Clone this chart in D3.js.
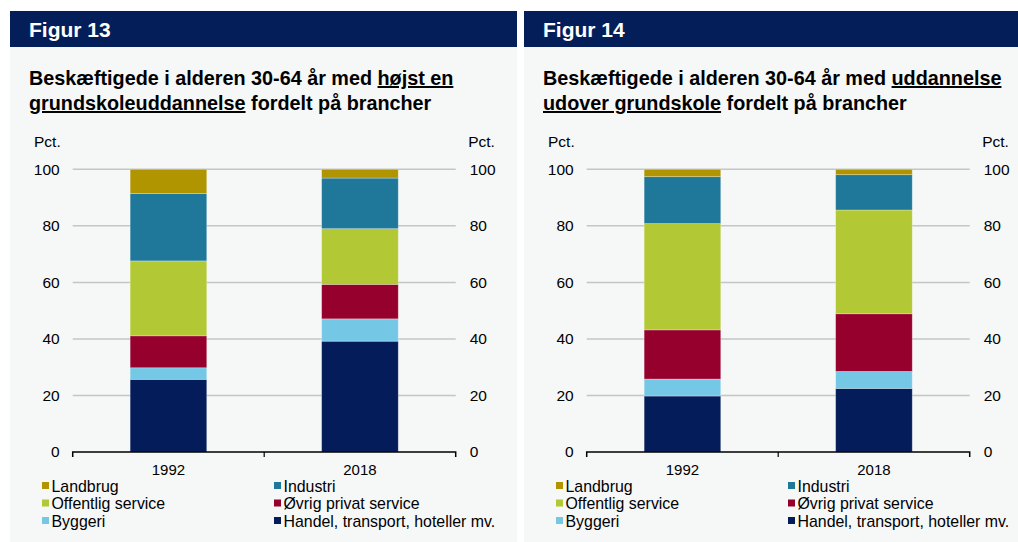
<!DOCTYPE html>
<html><head><meta charset="utf-8">
<script src="https://cdn.jsdelivr.net/npm/d3@7"></script>
<style>
body{margin:0;background:#fff;}
svg{display:block;font-family:"Liberation Sans",Arial,sans-serif;}
</style></head>
<body><svg id="c" width="1018" height="542"></svg>
<script>
const years = ["1992", "2018"];
const seriesNames = ["Handel, transport, hoteller mv.", "Byggeri", "Øvrig privat service", "Offentlig service", "Industri", "Landbrug"];
const seriesColors = ["#041c5a", "#74c8e6", "#95002c", "#b2c834", "#1f7899", "#b09500"];
// Figur 13: højst en grundskoleuddannelse (values per series, [1992, 2018])
const fig13Handel = [25.7, 39.2];
const fig13Byggeri = [4.1, 7.9];
const fig13Ovrig = [11.3, 12.2];
const fig13Offentlig = [26.5, 19.7];
const fig13Industri = [23.8, 17.9];
const fig13Landbrug = [8.6, 3.1];
// Figur 14: uddannelse udover grundskole
const fig14Handel = [19.8, 22.5];
const fig14Byggeri = [6.0, 6.0];
const fig14Ovrig = [17.4, 20.4];
const fig14Offentlig = [37.6, 36.7];
const fig14Industri = [16.6, 12.5];
const fig14Landbrug = [2.6, 1.9];
const yTicks = [0, 20, 40, 60, 80, 100];
const legendOrder = [["Landbrug", "Industri"], ["Offentlig service", "Øvrig privat service"], ["Byggeri", "Handel, transport, hoteller mv."]];

const panels = [
  {x0: 10, fig: "Figur 13", title: [["Beskæftigede i alderen 30-64 år med ", false], ["højst en", true]],
   title2: [["grundskoleuddannelse", true], [" fordelt på brancher", false]],
   series: [fig13Handel, fig13Byggeri, fig13Ovrig, fig13Offentlig, fig13Industri, fig13Landbrug]},
  {x0: 524, fig: "Figur 14", title: [["Beskæftigede i alderen 30-64 år med ", false], ["uddannelse", true]],
   title2: [["udover grundskole", true], [" fordelt på brancher", false]],
   series: [fig14Handel, fig14Byggeri, fig14Ovrig, fig14Offentlig, fig14Industri, fig14Landbrug]}
];

const svg = d3.select("#c");
panels.forEach((p, pi) => {
  const w = pi === 0 ? 507 : 494;
  const g = svg.append("g").attr("transform", `translate(${p.x0},0)`);
  g.append("rect").attr("x", 0).attr("y", 47).attr("width", w).attr("height", 495).attr("fill", "#f6f7f7");
  g.append("rect").attr("x", 0).attr("y", 11).attr("width", w).attr("height", 36).attr("fill", "#041e5a");
  g.append("text").attr("x", 19).attr("y", 36.5).attr("fill", "#fff").attr("font-weight", "bold")
    .attr("font-size", 21).text(p.fig);
  [p.title, p.title2].forEach((line, li) => {
    const t = g.append("text").attr("x", 19).attr("y", 85 + li * 25).attr("font-weight", "bold")
      .attr("font-size", 19.8).attr("fill", "#000");
    line.forEach(([s, u]) => {
      const ts = t.append("tspan").text(s);
      if (u) ts.style("text-decoration", "underline");
    });
  });

  const left = 62.7, right = 445.7, top = 169.3, bottom = 452;
  const x = d3.scaleBand().domain(years).range([left, right]).paddingInner(0.6).paddingOuter(0.3);
  const y = d3.scaleLinear().domain([0, 100]).range([bottom, top]);

  // gridlines
  g.append("g").selectAll("line").data(yTicks.filter(d => d > 0)).join("line")
    .attr("x1", left).attr("x2", right).attr("y1", d => y(d)).attr("y2", d => y(d))
    .attr("stroke", "#c4c6c6").attr("stroke-width", 1.5);

  // stacked bars
  const rows = years.map((yr, i) => {
    const o = {year: yr};
    seriesNames.forEach((n, k) => o[n] = p.series[k][i]);
    return o;
  });
  const stack = d3.stack().keys(seriesNames)(rows);
  const color = d3.scaleOrdinal().domain(seriesNames).range(seriesColors);
  g.append("g").selectAll("g").data(stack).join("g").attr("fill", d => color(d.key))
    .selectAll("rect").data(d => d).join("rect")
    .attr("x", d => x(d.data.year)).attr("width", x.bandwidth())
    .attr("y", d => y(d[1])).attr("height", d => y(d[0]) - y(d[1]))
    .attr("stroke", "rgba(255,255,255,0.35)").attr("stroke-width", 0.8);

  // left & right axes
  const la = g.append("g").attr("transform", `translate(${left},0)`)
    .call(d3.axisLeft(y).tickValues(yTicks).tickSize(0).tickPadding(13));
  la.select(".domain").remove();
  const ra = g.append("g").attr("transform", `translate(${right},0)`)
    .call(d3.axisRight(y).tickValues(yTicks).tickSize(0).tickPadding(14));
  ra.select(".domain").remove();
  [la, ra].forEach(a => a.selectAll("text").attr("font-size", 15.5).attr("fill", "#000")
    .attr("font-family", "Liberation Sans, Arial, sans-serif"));

  g.append("text").attr("x", 24).attr("y", 147).attr("font-size", 15.5).text("Pct.");
  g.append("text").attr("x", right + 12.5).attr("y", 147).attr("font-size", 15.5).text("Pct.");

  // x axis
  const xa = g.append("g").attr("transform", `translate(0,${bottom})`)
    .call(d3.axisBottom(x).tickSize(0).tickPadding(12));
  xa.select(".domain").attr("stroke", "#000").attr("stroke-width", 1.5)
    .attr("d", `M${left},5V0H${right}V5`);
  xa.selectAll("text").attr("font-size", 15).attr("fill", "#000")
    .attr("font-family", "Liberation Sans, Arial, sans-serif");
  const mid = (left + right) / 2;
  xa.append("line").attr("x1", mid).attr("x2", mid).attr("y1", 0).attr("y2", 5)
    .attr("stroke", "#000").attr("stroke-width", 1.2);

  // legend
  const colX = [32, 264];
  legendOrder.forEach((row, ri) => {
    row.forEach((name, ci) => {
      const lx = colX[ci], ly = 486 + ri * 17.5;
      g.append("rect").attr("x", lx).attr("y", ly - 4).attr("width", 7).attr("height", 7)
        .attr("fill", color(name));
      g.append("text").attr("x", lx + 9.5).attr("y", ly + 5.5).attr("font-size", 15.9)
        .attr("fill", "#000").text(name);
    });
  });
});
</script></body></html>
